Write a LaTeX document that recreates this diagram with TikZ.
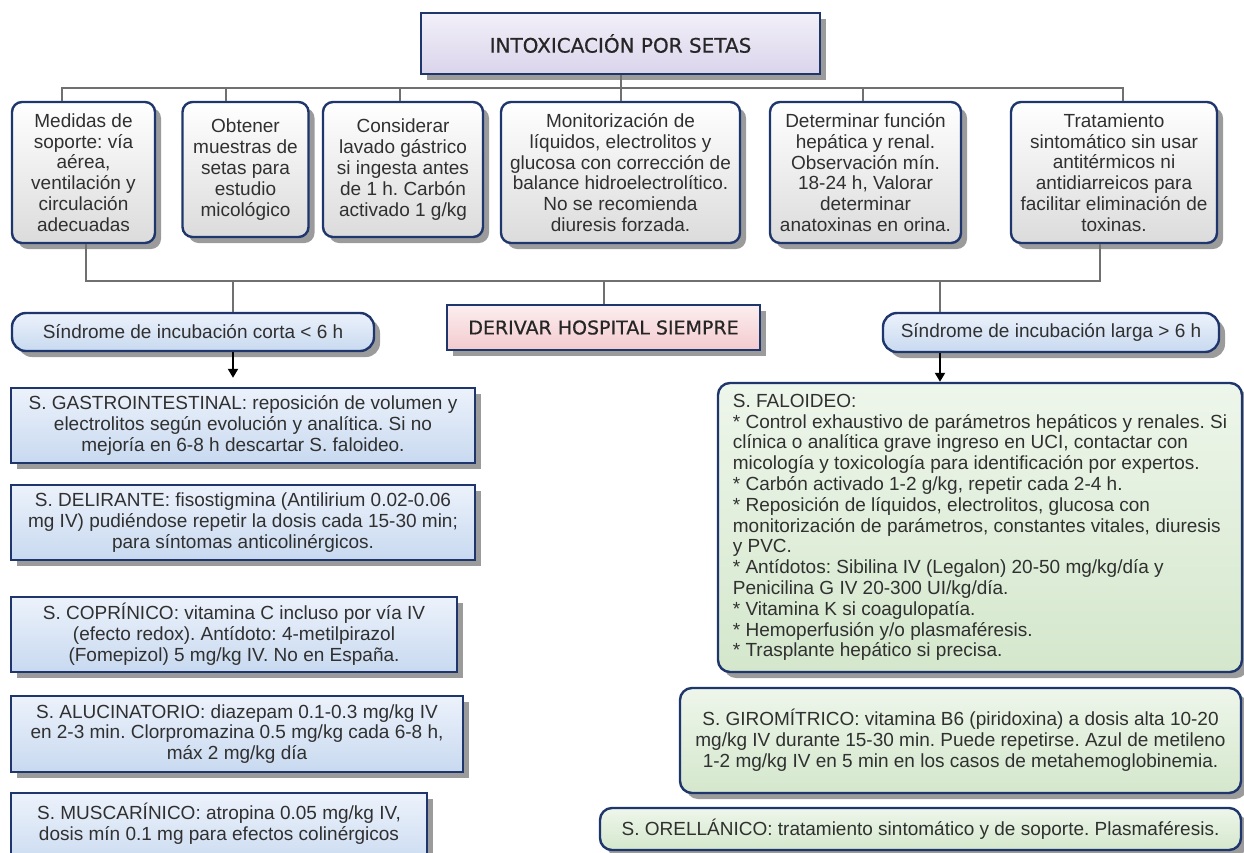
\documentclass[tikz,border=0pt]{standalone}
\usepackage{fontspec}
\setmainfont{Liberation Sans}
\newfontfamily\headfont{DejaVu Sans}[FakeBold=0.6]
\usetikzlibrary{positioning,shadows}
\usetikzlibrary{arrows.meta}
\tikzset{>={Triangle[width=10pt,length=9pt]}}
\frenchspacing

\definecolor{navy}{RGB}{30,54,108}
\definecolor{wire}{RGB}{112,112,112}
\definecolor{txt}{RGB}{48,48,48}
\definecolor{lavtop}{RGB}{242,240,249}
\definecolor{lavbot}{RGB}{218,212,235}
\definecolor{pinktop}{RGB}{252,238,239}
\definecolor{pinkbot}{RGB}{243,202,206}
\definecolor{bluetop}{RGB}{236,242,251}
\definecolor{bluebot}{RGB}{200,217,240}
\definecolor{greentop}{RGB}{238,246,235}
\definecolor{greenbot}{RGB}{212,231,204}
\newcommand{\boxfont}{\fontsize{19}{20.8}\selectfont}
\newcommand{\headsize}{\headfont\fontsize{20}{24}\selectfont}

\begin{document}
\begin{tikzpicture}[x=1pt,y=-1pt]
          \tikzstyle{shadowed} = [drop shadow={shadow xshift=6pt, shadow yshift=-6pt, fill=black!65, opacity=0.6}]
          \tikzstyle{base} = [shadowed, draw=navy, line width=2.4pt, inner sep=0pt, align=center, text=txt, font=\boxfont]
          \tikzstyle{tnode} = [base, rounded corners=10pt, top color=white, bottom color=black!14]
          \tikzstyle{hnode} = [base, text=black!85, font=\headsize]
          \tikzstyle{bnode} = [base, top color=bluetop, bottom color=bluebot]
          \tikzstyle{gnode} = [base, rounded corners=12pt, top color=greentop, bottom color=greenbot]
          \tikzstyle{bus} = [wire, line width=2pt]

          \useasboundingbox (0,0) rectangle (1244,852);

          \node[hnode, top color=lavtop, bottom color=lavbot, minimum width=399pt, minimum height=61pt] (title) at (620.5,43.5) {INTOXICACIÓN POR SETAS};

          \node[tnode, minimum width=143pt, minimum height=141pt] (sop) at (83.5,172.5) {Medidas de\\soporte: vía\\aérea,\\ventilación y\\circulación\\adecuadas};
          \node[tnode, minimum width=126pt, minimum height=135pt] (mue) at (245.5,169.5) {Obtener\\muestras de\\setas para\\estudio\\micológico};
          \node[tnode, minimum width=160pt, minimum height=135pt] (lav) at (403,169.5) {Considerar\\lavado gástrico\\si ingesta antes\\de 1 h. Carbón\\activado 1 g/kg};
          \node[tnode, minimum width=239pt, minimum height=141pt] (mon) at (620.5,172.5) {Monitorización de\\líquidos, electrolitos y\\glucosa con corrección de\\balance hidroelectrolítico.\\No se recomienda\\diuresis forzada.};
          \node[tnode, minimum width=191pt, minimum height=141pt] (fun) at (865.5,172.5) {Determinar función\\hepática y renal.\\Observación mín.\\18-24 h, Valorar\\determinar\\anatoxinas en orina.};
          \node[tnode, minimum width=206pt, minimum height=141pt] (sin) at (1114,172.5) {Tratamiento\\sintomático sin usar\\antitérmicos ni\\antidiarreicos para\\facilitar eliminación de\\toxinas.};

          \node[bnode, rounded corners=14pt, minimum width=362pt, minimum height=38pt] (corta) at (193,332) {Síndrome de incubación corta < 6 h};
          \node[hnode, top color=pinktop, bottom color=pinkbot, font=\headfont\fontsize{19}{23}\selectfont, minimum width=313pt, minimum height=45pt] (hosp) at (603.5,327.5) {DERIVAR HOSPITAL SIEMPRE};
          \node[bnode, rounded corners=14pt, minimum width=336pt, minimum height=39pt] (larga) at (1051,332.5) {Síndrome de incubación larga > 6 h};

          \node[bnode, minimum width=464pt, minimum height=75pt] (gas) at (243,425.5) {S. GASTROINTESTINAL: reposición de volumen y\\electrolitos según evolución y analítica. Si no\\mejoría en 6-8 h descartar S. faloideo.};
          \node[bnode, minimum width=464pt, minimum height=75pt] (del) at (243,522.5) {S. DELIRANTE: fisostigmina (Antilirium 0.02-0.06\\mg IV) pudiéndose repetir la dosis cada 15-30 min;\\para síntomas anticolinérgicos.};
          \node[bnode, minimum width=446pt, minimum height=75pt] (cop) at (234,634.5) {S. COPRÍNICO: vitamina C incluso por vía IV\\(efecto redox). Antídoto: 4-metilpirazol\\(Fomepizol) 5 mg/kg IV. No en España.};
          \node[bnode, minimum width=452pt, minimum height=76pt] (alu) at (237,734) {S. ALUCINATORIO: diazepam 0.1-0.3 mg/kg IV\\en 2-3 min. Clorpromazina 0.5 mg/kg cada 6-8 h,\\máx 2 mg/kg día};
          \node[bnode, minimum width=416pt, minimum height=78pt] (mus) at (219,832) {S. MUSCARÍNICO: atropina 0.05 mg/kg IV,\\dosis mín 0.1 mg para efectos colinérgicos\\\mbox{}};

          \node[gnode, align=left, minimum width=524pt, minimum height=289pt] (fal) at (980,527.5) {S. FALOIDEO:\\* Control exhaustivo de parámetros hepáticos y renales. Si\\clínica o analítica grave ingreso en UCI, contactar con\\micología y toxicología para identificación por expertos.\\* Carbón activado 1-2 g/kg, repetir cada 2-4 h.\\* Reposición de líquidos, electrolitos, glucosa con\\monitorización de parámetros, constantes vitales, diuresis\\y PVC.\\* Antídotos: Sibilina IV (Legalon) 20-50 mg/kg/día y\\Penicilina G IV 20-300 UI/kg/día.\\* Vitamina K si coagulopatía.\\* Hemoperfusión y/o plasmaféresis.\\* Trasplante hepático si precisa.};
          \node[gnode, minimum width=561pt, minimum height=105pt] (gir) at (960.5,740.5) {S. GIROMÍTRICO: vitamina B6 (piridoxina) a dosis alta 10-20\\mg/kg IV durante 15-30 min. Puede repetirse. Azul de metileno\\1-2 mg/kg IV en 5 min en los casos de metahemoglobinemia.};
          \node[gnode, minimum width=641pt, minimum height=42pt] (ore) at (920.5,829) {S. ORELLÁNICO: tratamiento sintomático y de soporte. Plasmaféresis.};

          % upper bus
          \coordinate (ul) at (62,88);
          \coordinate (ur) at (1123,88);
          \coordinate (u2) at (226,88);
          \coordinate (u3) at (400,88);
          \coordinate (u5) at (863,88);
          \draw[bus] (title.south) -- (title.south |- ul);
          \draw[bus] (sop.north -| ul) -- (ul) -- (ur) -- (sin.north -| ur);
          \draw[bus] (u2) -- (u2 |- mue.north);
          \draw[bus] (u3) -- (u3 |- lav.north);
          \draw[bus] (mon.north |- ul) -- (mon.north);
          \draw[bus] (u5) -- (u5 |- fun.north);

          % lower bus
          \coordinate (ll) at (86,281);
          \coordinate (lr) at (1100,281);
          \coordinate (lc) at (233,281);
          \coordinate (lg) at (940,281);
          \draw[bus] (sop.south -| ll) -- (ll) -- (lr) -- (sin.south -| lr);
          \draw[bus] (lc) -- (lc |- corta.north);
          \draw[bus] (hosp.north |- ll) -- (hosp.north);
          \draw[bus] (lg) -- (lg |- larga.north);

          \draw[->, line width=2pt, shorten >=9pt] (lc |- corta.south) -- (lc |- gas.north);
          \draw[->, line width=2pt] (lg |- larga.south) -- (lg |- fal.north);
        \end{tikzpicture}
\end{document}
